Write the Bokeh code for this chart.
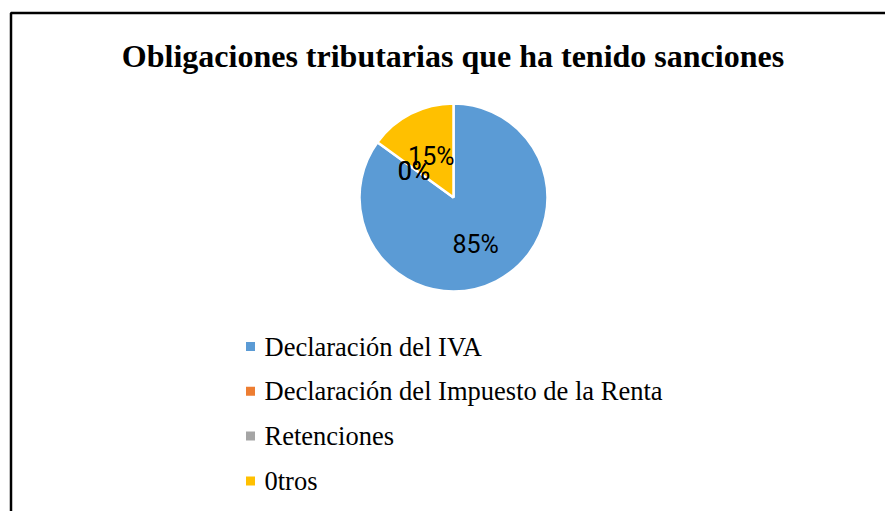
import math
from bokeh.plotting import figure
from bokeh.models import ColumnDataSource, Range1d, Label
from bokeh.embed import file_html
from bokeh.resources import INLINE
from bokeh.core.properties import value

# ---- data ----
categories = ["Declaración del IVA", "Declaración del Impuesto de la Renta", "Retenciones", "0tros"]
values = [85, 0, 0, 15]
pct_labels = ["85%", "0%", "0%", "15%"]
colors = ["#5B9BD5", "#ED7D31", "#A5A5A5", "#FFC000"]
title_text = "Obligaciones tributarias que ha tenido sanciones"

# ---- layout ----
W, H = 885, 511
CX, CY, R = 453, 314, 94
LEG_X, LEG_Y0, LEG_GAP = 250, 165, 44.8

p = figure(width=W, height=H, output_backend="svg", toolbar_location=None,
           x_range=Range1d(0, W), y_range=Range1d(0, H), min_border=0,
           x_axis_location=None, y_axis_location=None)
p.grid.visible = False
p.outline_line_color = None
p.background_fill_color = "white"
p.border_fill_color = "white"

# chart frame (runs off right/bottom edges as in reference)
p.quad(left=[10.5], right=[W + 20], top=[H - 12.5], bottom=[-20],
       fill_color=None, line_color="black", line_width=2.5)

# title
p.add_layout(Label(x=452.5, y=H - 55, text=title_text, text_align="center",
                   text_baseline="middle", text_font="Liberation Serif",
                   text_font_style="bold", text_font_size="32px", text_color="black"))

# pie wedges
total = sum(values)
starts, ends, mids = [], [], []
a = math.pi / 2
for v in values:
    sweep = 2 * math.pi * v / total
    starts.append(a)
    ends.append(a - sweep)
    mids.append(a - sweep / 2)
    a -= sweep

idx = [i for i, v in enumerate(values) if v > 0]
wsrc = ColumnDataSource(dict(
    start=[starts[i] for i in idx], end=[ends[i] for i in idx],
    color=[colors[i] for i in idx]))
p.wedge(x=CX, y=CY, radius=R, start_angle="start", end_angle="end",
        direction="clock", fill_color="color", line_color="white",
        line_width=2.5, source=wsrc)

# percentage labels
lr = 0.52 * R
lsrc = ColumnDataSource(dict(
    x=[CX + lr * math.cos(m) for m in mids],
    y=[CY + lr * math.sin(m) for m in mids],
    t=pct_labels))
p.text(x="x", y="y", text="t", source=lsrc, text_align="center",
       text_baseline="middle", text_font=value("Roboto"), y_offset=3,
       text_font_size="25px", text_color="black")

# legend
ly = [LEG_Y0 - i * LEG_GAP for i in range(len(categories))]
gsrc = ColumnDataSource(dict(x=[LEG_X] * len(categories), tx=[LEG_X + 14] * len(categories),
                             y=ly, c=colors, t=categories))
p.scatter(x="x", y="y", marker="square", size=9, fill_color="c",
          line_color=None, source=gsrc)
p.text(x="tx", y="y", text="t", source=gsrc, text_align="left",
       text_baseline="middle", text_font=value("Liberation Serif"),
       text_font_size="26.5px", text_color="black")

open("out.html", "w").write(file_html(p, INLINE))
